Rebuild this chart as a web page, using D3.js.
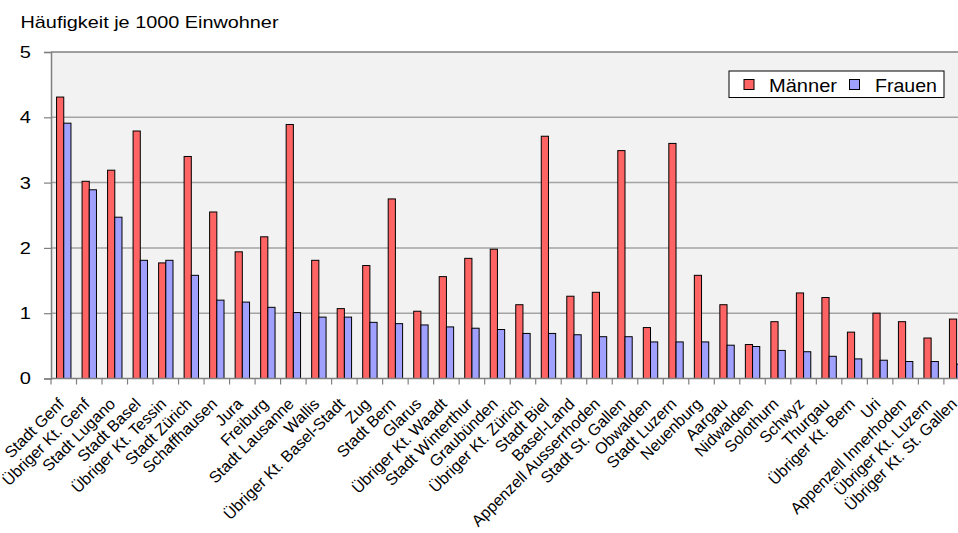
<!DOCTYPE html>
<html>
<head>
<meta charset="utf-8">
<script src="https://cdn.jsdelivr.net/npm/d3@7"></script>
<style>
  html, body { margin: 0; padding: 0; background: #fff; }
  svg { display: block; font-family: "Liberation Sans", Arial, sans-serif; }
</style>
</head>
<body>
<svg id="chart" width="958" height="533"></svg>
<script>
// Regions, ordered as in the source table
const regions = [
  "Stadt Genf", "Übriger Kt. Genf", "Stadt Lugano", "Stadt Basel", "Übriger Kt. Tessin",
  "Stadt Zürich", "Schaffhausen", "Jura", "Freiburg", "Stadt Lausanne", "Wallis",
  "Übriger Kt. Basel-Stadt", "Zug", "Stadt Bern", "Glarus", "Übriger Kt. Waadt",
  "Stadt Winterthur", "Graubünden", "Übriger Kt. Zürich", "Stadt Biel", "Basel-Land",
  "Appenzell Ausserrhoden", "Stadt St. Gallen", "Obwalden", "Stadt Luzern", "Neuenburg",
  "Aargau", "Nidwalden", "Solothurn", "Schwyz", "Thurgau", "Übriger Kt. Bern", "Uri",
  "Appenzell Innerhoden", "Übriger Kt. Luzern", "Übriger Kt. St. Gallen"
];

// Frequency per 1000 inhabitants
const maenner = [
  4.31, 3.02, 3.19, 3.79, 1.77, 3.40, 2.55, 1.94, 2.17, 3.89, 1.81,
  1.07, 1.73, 2.75, 1.03, 1.56, 1.84, 1.98, 1.13, 3.71, 1.26,
  1.32, 3.49, 0.78, 3.60, 1.58, 1.13, 0.52, 0.87, 1.31, 1.24, 0.71, 1.00,
  0.87, 0.62, 0.91
];
const frauen = [
  3.91, 2.89, 2.47, 1.81, 1.81, 1.58, 1.20, 1.17, 1.09, 1.01, 0.94,
  0.94, 0.86, 0.84, 0.82, 0.79, 0.77, 0.75, 0.69, 0.69, 0.67,
  0.64, 0.64, 0.56, 0.56, 0.56, 0.51, 0.49, 0.43, 0.41, 0.34, 0.30, 0.28,
  0.26, 0.26, 0.22
];

const seriesNames = ["Männer", "Frauen"];
const seriesValues = [maenner, frauen];
const seriesColors = ["#ff6464", "#a0a0ff"];
const yTicks = [0, 1, 2, 3, 4, 5];
const titleText = "Häufigkeit je 1000 Einwohner";

const svg = d3.select("#chart");

// Plot area (the category axis runs slightly past the right edge of the page)
const plotLeft = 51, plotTop = 52, plotBottom = 378.5, plotRight = 969.4;

const x = d3.scaleBand().domain(regions).range([plotLeft, plotRight]).padding(0);
const groupW = 14.4;
const xs = d3.scaleBand().domain(seriesNames).range([0, groupW]).padding(0);
const y = d3.scaleLinear().domain([0, 5]).range([plotBottom, plotTop]);

// Horizontally widened text, as in the original rendering
function stretch(sel, factor) {
  sel.each(function () {
    const len = this.getComputedTextLength();
    d3.select(this).attr("textLength", len * factor).attr("lengthAdjust", "spacingAndGlyphs");
  });
}

// Plot background
svg.append("rect")
  .attr("x", plotLeft).attr("y", plotTop)
  .attr("width", plotRight - plotLeft).attr("height", plotBottom - plotTop)
  .attr("fill", "#f2f2f2");

// Horizontal gridlines
svg.append("g")
  .selectAll("line")
  .data(yTicks.filter(d => d > 0 && d < 5))
  .join("line")
  .attr("x1", plotLeft).attr("x2", plotRight)
  .attr("y1", d => y(d)).attr("y2", d => y(d))
  .attr("stroke", "#a3a3a3").attr("stroke-width", 1.5);

// Top border of the plot
svg.append("line")
  .attr("x1", plotLeft).attr("x2", plotRight)
  .attr("y1", plotTop).attr("y2", plotTop)
  .attr("stroke", "#444").attr("stroke-width", 1.2);

// Bars
const groups = svg.append("g")
  .selectAll("g")
  .data(regions)
  .join("g")
  .attr("transform", d => `translate(${x(d) + (x.bandwidth() - groupW) / 2},0)`);

groups.selectAll("rect")
  .data((d, i) => seriesNames.map((s, k) => ({ s, k, v: seriesValues[k][i] })))
  .join("rect")
  .attr("x", d => xs(d.s))
  .attr("width", xs.bandwidth())
  .attr("y", d => y(d.v))
  .attr("height", d => y(0) - y(d.v))
  .attr("fill", d => seriesColors[d.k])
  .attr("stroke", "#000").attr("stroke-width", 1);

// Y axis
const yAxis = d3.axisLeft(y).tickValues(yTicks).tickSize(7).tickPadding(13).tickFormat(d3.format("d"));
const gy = svg.append("g").attr("transform", `translate(${plotLeft},0)`).call(yAxis);
gy.select(".domain").attr("stroke", "#808080").attr("stroke-width", 1.5);
gy.selectAll(".tick line").attr("stroke", "#808080").attr("stroke-width", 1.2);
gy.selectAll(".tick text")
  .attr("font-size", 17).attr("fill", "#000")
  .attr("font-family", "Liberation Sans, Arial, sans-serif")
  .call(stretch, 1.18);

// X axis: tick marks at category boundaries
const boundaries = regions.map(r => x(r));
svg.append("line")
  .attr("x1", plotLeft).attr("x2", plotRight)
  .attr("y1", plotBottom).attr("y2", plotBottom)
  .attr("stroke", "#808080").attr("stroke-width", 1.5);
svg.append("g")
  .selectAll("line")
  .data(boundaries)
  .join("line")
  .attr("x1", d => d).attr("x2", d => d)
  .attr("y1", plotBottom).attr("y2", plotBottom + 6)
  .attr("stroke", "#808080").attr("stroke-width", 1.2);

// Rotated category labels
svg.append("g")
  .selectAll("text")
  .data(regions)
  .join("text")
  .attr("transform", d => `translate(${x(d) + x.bandwidth() / 2 - 2.5},${plotBottom + 22.5}) rotate(-45)`)
  .attr("text-anchor", "end")
  .attr("dy", "0.35em")
  .attr("font-size", 16)
  .attr("fill", "#000")
  .text(d => d);

// Title
svg.append("text")
  .attr("x", 20.5).attr("y", 28)
  .attr("font-size", 17).attr("fill", "#000")
  .text(titleText)
  .attr("textLength", 258).attr("lengthAdjust", "spacingAndGlyphs");

// Legend
const legend = svg.append("g");
legend.append("rect")
  .attr("x", 729).attr("y", 71).attr("width", 215).attr("height", 26.5)
  .attr("fill", "#fff").attr("stroke", "#000").attr("stroke-width", 1);
const legendItems = [
  { name: seriesNames[0], color: seriesColors[0], mx: 744, tx: 769, tw: 68 },
  { name: seriesNames[1], color: seriesColors[1], mx: 849.5, tx: 875, tw: 62 }
];
legendItems.forEach(it => {
  legend.append("rect")
    .attr("x", it.mx).attr("y", 79.5).attr("width", 10).attr("height", 10)
    .attr("fill", it.color).attr("stroke", "#000").attr("stroke-width", 1);
  legend.append("text")
    .attr("x", it.tx).attr("y", 91.5)
    .attr("font-size", 18.5).attr("fill", "#000")
    .text(it.name)
    .attr("textLength", it.tw).attr("lengthAdjust", "spacingAndGlyphs");
});
</script>
</body>
</html>
